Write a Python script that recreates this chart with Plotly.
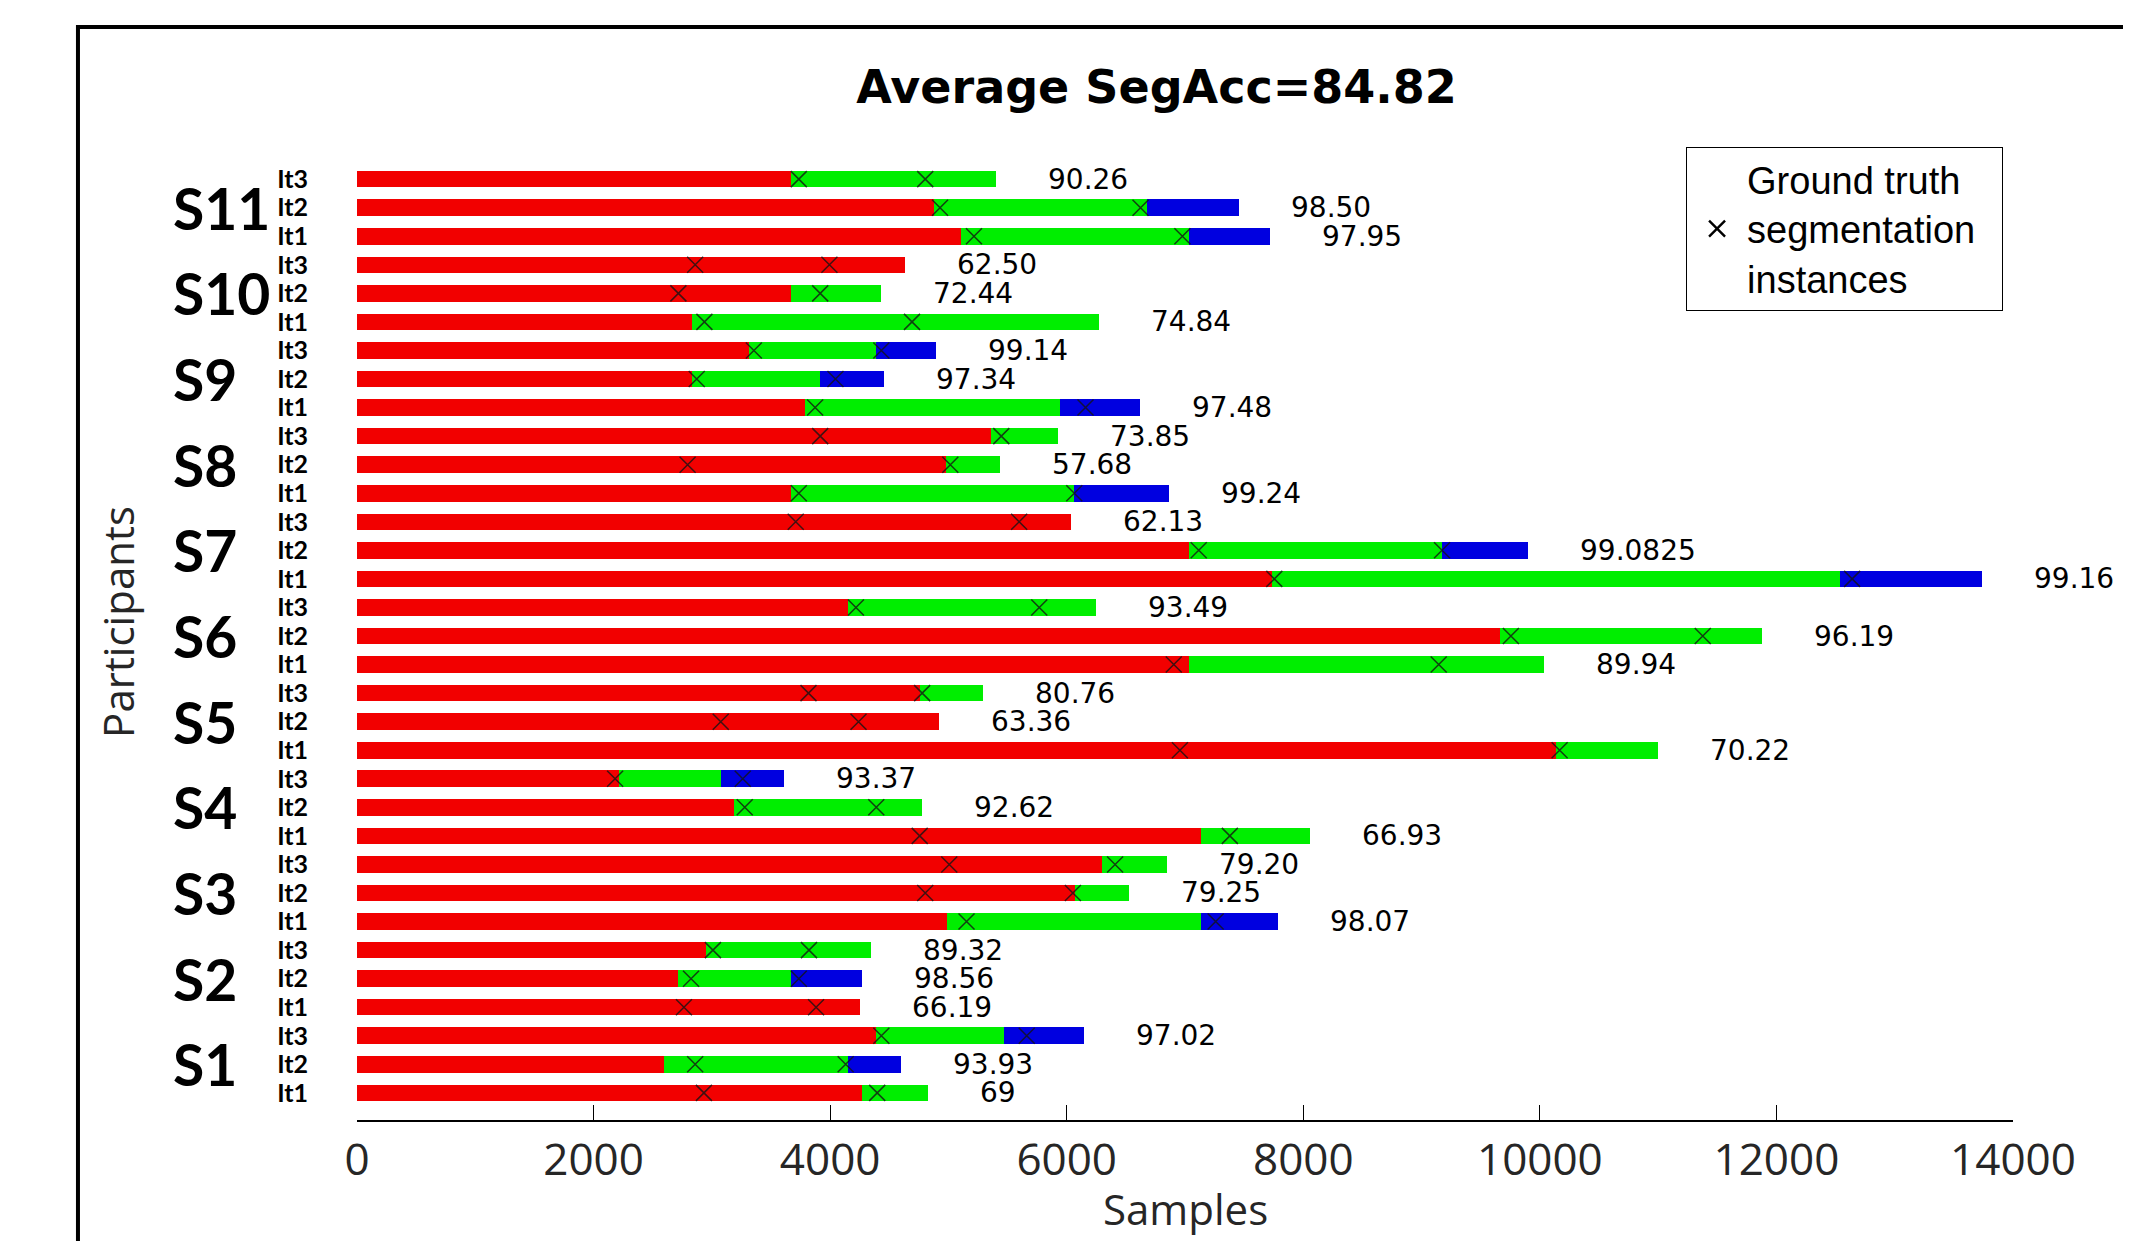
import plotly.graph_objects as go

participants = ["S1", "S2", "S3", "S4", "S5", "S6", "S7", "S8", "S9", "S10", "S11"]
iterations = ["It1", "It2", "It3"]

# segment lengths (samples) per participant, ordered It1, It2, It3
red_len = [
    [4269, 2592, 4390], [4252, 2717, 2954], [4985, 6073, 6301], [7138, 3183, 2212],
    [10140, 4917, 4757], [7030, 9661, 4153], [7737, 7030, 6033], [3666, 4981, 5360],
    [3786, 2829, 3312], [2829, 3669, 4632], [5110, 4878, 3666],
]
green_len = [
    [561, 1561, 1079], [0, 952, 1393], [2153, 453, 548], [919, 1595, 863],
    [860, 0, 539], [3003, 2217, 2092], [4804, 2143, 0], [2398, 458, 570],
    [2157, 1087, 1078], [3446, 764, 0], [1923, 1798, 1734],
]
blue_len = [
    [0, 444, 677], [0, 600, 0], [651, 0, 0], [0, 0, 531],
    [0, 0, 0], [0, 0, 0], [1201, 726, 0], [798, 0, 0],
    [673, 543, 505], [0, 0, 0], [685, 777, 0],
]
# ground truth segmentation instances (two per row)
gt_first = [
    [2933, 2859, 4433], [2764, 2824, 3009], [5153, 4804, 5007], [4757, 3278, 2182],
    [6957, 3075, 3817], [6905, 9755, 4218], [7755, 7116, 3709], [3735, 2795, 3916],
    [3873, 2872, 3355], [2937, 2717, 2859], [5216, 4929, 3735],
]
gt_second = [
    [4398, 4131, 5662], [3881, 3735, 3821], [7259, 6052, 6409], [7379, 4390, 3261],
    [10167, 4240, 4778], [9145, 11377, 5768], [12640, 9173, 5598], [6064, 5016, 5447],
    [6159, 4045, 4433], [4692, 3916, 3994], [6978, 6624, 4804],
]
acc_labels = [
    ["69", "93.93", "97.02"], ["66.19", "98.56", "89.32"], ["98.07", "79.25", "79.20"],
    ["66.93", "92.62", "93.37"], ["70.22", "63.36", "80.76"], ["89.94", "96.19", "93.49"],
    ["99.16", "99.0825", "62.13"], ["99.24", "57.68", "73.85"], ["97.48", "97.34", "99.14"],
    ["74.84", "72.44", "62.50"], ["97.95", "98.50", "90.26"],
]
x_ticks = [0, 2000, 4000, 6000, 8000, 10000, 12000, 14000]
x_tick_text = ["0", "2000", "4000", "6000", "8000", "10000", "12000", "14000"]
title_text = "Average SegAcc=84.82"
legend_text = "Ground truth<br>segmentation&nbsp;&nbsp;<br>instances"

# flatten
rows, row_labels, R, G, B, M1, M2, LBL = [], [], [], [], [], [], [], []
for p in range(len(participants)):
    for i in range(3):
        rows.append(3 * p + i)
        row_labels.append(iterations[i])
        R.append(red_len[p][i]); G.append(green_len[p][i]); B.append(blue_len[p][i])
        M1.append(gt_first[p][i]); M2.append(gt_second[p][i]); LBL.append(acc_labels[p][i])

RED, GREEN, BLUE = "#F20000", "#00EE00", "#0000E0"
BW = 0.58

fig = go.Figure()
for vals, col in [(R, RED), (G, GREEN), (B, BLUE)]:
    fig.add_trace(go.Bar(x=vals, y=rows, orientation="h", width=BW,
                         marker=dict(color=col, line=dict(width=0)),
                         showlegend=False, hoverinfo="skip"))

fig.add_trace(go.Scatter(
    x=M1 + M2, y=rows + rows, mode="markers", showlegend=False,
    marker=dict(symbol="x-thin", size=16, line=dict(width=1.5, color="rgba(20,20,20,0.8)")),
))
fig.add_trace(go.Scatter(
    x=[None], y=[None], mode="markers", name=legend_text,
    marker=dict(symbol="x-thin", size=20, line=dict(width=2.4, color="black")),
))

annotations = []
for r, lab, a, b, c in zip(rows, LBL, R, G, B):
    annotations.append(dict(x=a + b + c, y=r, xref="x", yref="y", text=lab, showarrow=False,
                            xanchor="left", yanchor="middle", xshift=50,
                            font=dict(family="DejaVu Sans", size=28, color="black")))
for p, name in enumerate(participants):
    annotations.append(dict(x=0, y=3 * p + 1, xref="x", yref="y", text=name, showarrow=False,
                            xanchor="left", yanchor="middle", xshift=-186,
                            font=dict(family="Lato", size=57, color="black", weight="bold")))
annotations.append(dict(x=-0.1443, y=0.52, xref="paper", yref="paper", text="Participants",
                        showarrow=False, textangle=-90, xanchor="center", yanchor="middle",
                        font=dict(family="Open Sans", size=42, color="#262626")))
annotations.append(dict(x=0.5, y=-0.092, xref="paper", yref="paper", text="Samples",
                        showarrow=False, xanchor="center", yanchor="middle",
                        font=dict(family="Open Sans", size=42, color="#262626")))

W, H = 2123, 1233  # page body has an 8px margin
fig.update_layout(
    width=W, height=H,
    margin=dict(l=349, r=118, t=154, b=121),
    paper_bgcolor="white", plot_bgcolor="white",
    barmode="stack",
    title=dict(text="<b>" + title_text + "</b>", x=0.541, xanchor="center",
               y=1 - 79 / H, yanchor="middle", yref="container",
               font=dict(family="DejaVu Sans", size=46, color="black")),
    xaxis=dict(range=[0, 14000], tickvals=x_ticks, ticktext=x_tick_text, ticks="inside", ticklen=15,
               tickcolor="black", showline=True, linecolor="black", linewidth=1.5,
               showgrid=False, zeroline=False,
               tickfont=dict(family="Open Sans", size=44, color="#262626")),
    yaxis=dict(range=[-0.95, 32.6], tickvals=rows, ticktext=row_labels, ticks="",
               showgrid=False, zeroline=False, showline=False, ticklabelstandoff=48,
               tickfont=dict(family="Lato", size=25, color="black", weight="bold")),
    showlegend=True,
    legend=dict(x=0.994, y=1.0157, xanchor="right", yanchor="top",
                bordercolor="black", borderwidth=1, bgcolor="white",
                font=dict(family="Liberation Sans", size=38, color="black"),
                itemwidth=50),
    annotations=annotations,
    shapes=[dict(type="rect", xref="paper", yref="paper", x0=-0.1685, y0=-0.5, x1=1.3, y1=1.141,
                 line=dict(color="black", width=4), fillcolor="rgba(0,0,0,0)", layer="below")],
)

fig.write_html("out.html")
